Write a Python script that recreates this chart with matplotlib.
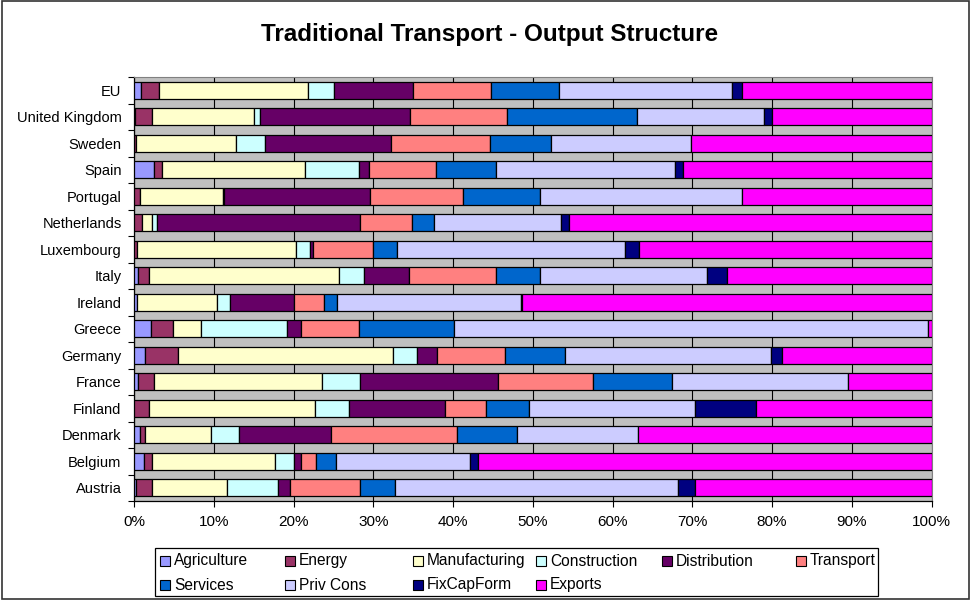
import numpy as np
import matplotlib.pyplot as plt
from matplotlib.patches import Rectangle

plt.rcParams['font.family'] = ['Liberation Sans', 'DejaVu Sans']

countries = ['Austria', 'Belgium', 'Denmark', 'Finland', 'France', 'Germany', 'Greece', 'Ireland',
             'Italy', 'Luxembourg', 'Netherlands', 'Portugal', 'Spain', 'Sweden', 'United Kingdom', 'EU']

# shares (%) per sector, same order as countries
agriculture = [0.3, 1.3, 0.8, 0.0, 0.5, 1.4, 2.1, 0.4, 0.5, 0.0, 0.0, 0.0, 2.5, 0.0, 0.1, 0.9]
energy = [2.0, 1.0, 0.6, 1.9, 2.0, 4.1, 2.8, 0.0, 1.4, 0.4, 1.0, 0.7, 1.0, 0.3, 2.2, 2.2]
manufacturing = [9.3, 15.4, 8.3, 20.8, 21.1, 27.0, 3.5, 10.0, 23.8, 19.9, 1.3, 10.4, 17.9, 12.5, 12.7, 18.8]
construction = [6.4, 2.4, 3.5, 4.2, 4.8, 3.0, 10.8, 1.6, 3.2, 1.8, 0.6, 0.2, 6.8, 3.6, 0.8, 3.2]
distribution = [1.6, 0.9, 11.5, 12.1, 17.3, 2.5, 1.8, 8.0, 5.6, 0.4, 25.4, 18.3, 1.3, 15.8, 18.8, 9.9]
transport = [8.8, 1.8, 15.8, 5.1, 11.8, 8.5, 7.2, 3.8, 10.9, 7.5, 6.6, 11.6, 8.4, 12.5, 12.2, 9.8]
services = [4.3, 2.5, 7.5, 5.4, 9.9, 7.5, 11.9, 1.6, 5.5, 3.0, 2.7, 9.7, 7.5, 7.6, 16.3, 8.5]
priv_cons = [35.5, 16.8, 15.2, 20.8, 22.1, 25.9, 59.4, 23.1, 21.0, 28.6, 15.9, 25.4, 22.4, 17.6, 15.9, 21.8]
fixcapform = [2.1, 1.0, 0.0, 7.7, 0.0, 1.3, 0.0, 0.2, 2.5, 1.7, 1.0, 0.0, 1.1, 0.0, 1.0, 1.2]
exports = [29.7, 56.9, 36.8, 22.0, 10.5, 18.8, 0.5, 51.3, 25.6, 36.7, 45.5, 23.7, 31.1, 30.1, 20.0, 23.8]

sectors = ['Agriculture', 'Energy', 'Manufacturing', 'Construction', 'Distribution',
           'Transport', 'Services', 'Priv Cons', 'FixCapForm', 'Exports']
colors = ['#9999FF', '#993366', '#FFFFCC', '#CCFFFF', '#660066',
          '#FF8080', '#0066CC', '#CCCCFF', '#000080', '#FF00FF']
x_ticks = [0, 10, 20, 30, 40, 50, 60, 70, 80, 90, 100]

series = np.array([agriculture, energy, manufacturing, construction, distribution,
                   transport, services, priv_cons, fixcapform, exports])
series = series / series.sum(axis=0) * 100  # 100% stacked

W, H = 972, 600
fig = plt.figure(figsize=(W / 100, H / 100), dpi=100)
ax = fig.add_axes([134 / W, 1 - 501 / H, (931.5 - 134) / W, (501 - 77) / H])
ax.set_facecolor('#C0C0C0')

y = np.arange(len(countries))
left = np.zeros(len(countries))
for vals, col in zip(series, colors):
    lw = [0 if v == 0 else 0.9 for v in vals]
    ax.barh(y, vals, left=left, height=0.64, color=col, edgecolor='black', linewidth=lw, zorder=3)
    left += vals

ax.set_xlim(0, 100)
ax.set_ylim(-0.5, len(countries) - 0.5)
ax.set_axisbelow(True)
ax.xaxis.grid(True, color='black', linewidth=0.8)

ax.set_xticks(x_ticks)
ax.set_xticklabels([f'{t}%' for t in x_ticks], fontsize=11)
ax.tick_params(axis='x', direction='out', length=4, width=0.8, pad=6)

ax.set_yticks(y)
ax.set_yticklabels(countries, fontsize=10.5)
ax.set_yticks(np.arange(-0.5, len(countries)), minor=True)
ax.tick_params(axis='y', which='major', length=0, pad=9)
ax.tick_params(axis='y', which='minor', direction='out', length=4, width=0.8)

for s in ['top', 'right']:
    ax.spines[s].set_color('#808080')
for s in ['left', 'bottom']:
    ax.spines[s].set_color('black')
    ax.spines[s].set_linewidth(0.9)

fig.text(489.5 / W, 1 - 35 / H, 'Traditional Transport - Output Structure',
         ha='center', va='center', fontsize=17.5, fontweight='bold')

# legend drawn Excel style
lx0, lx1, ly0, ly1 = 155, 878, 548, 596
fig.add_artist(Rectangle((lx0 / W, 1 - ly1 / H), (lx1 - lx0) / W, (ly1 - ly0) / H,
                         transform=fig.transFigure, fill=False, edgecolor='black', lw=0.9))
col_x = [160, 285, 413, 536, 662, 796]
row_y = [561, 585]
for k, (name, col) in enumerate(zip(sectors, colors)):
    mx = col_x[k % 6]
    my = row_y[k // 6]
    fig.add_artist(Rectangle((mx / W, 1 - (my + 5) / H), 10 / W, 10 / H,
                             transform=fig.transFigure, facecolor=col, edgecolor='black', lw=0.8))
    fig.text((mx + 14) / W, 1 - my / H, name, ha='left', va='center', fontsize=11.2)

fig.add_artist(Rectangle((0.002, 0.001), 0.995, 0.997, transform=fig.transFigure,
                         fill=False, edgecolor='#333333', lw=1.2))

fig.savefig('out.png', dpi=100)
